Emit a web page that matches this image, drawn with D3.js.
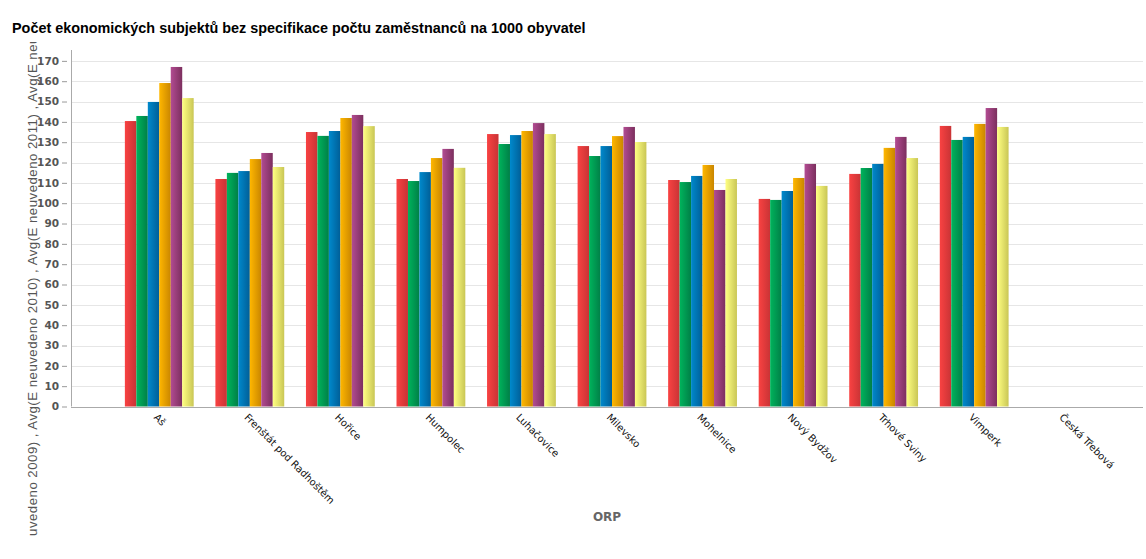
<!DOCTYPE html>
<meta charset="utf-8">
<style>
body { margin: 0; background: #fff; }
svg { display: block; }
</style>
<body>
<script src="https://d3js.org/d3.v7.min.js"></script>
<script>
var width = 1146,
    height = 559;

// data
var categories = ["Aš", "Frenštát pod Radhoštěm", "Hořice", "Humpolec", "Luhačovice",
  "Milevsko", "Mohelnice", "Nový Bydžov", "Trhové Sviny", "Vimperk", "Česká Třebová"];
var seriesNames = ["Avg(E neuvedeno 2009)", "Avg(E neuvedeno 2010)", "Avg(E neuvedeno 2011)",
  "Avg(E neuvedeno 2012)", "Avg(E neuvedeno 2013)", "Avg(E neuvedeno 2014)"];
var v2009 = [140.4, 111.9, 135.0, 111.9, 134.0, 128.1, 111.4, 102.1, 114.4, 138.0, null];
var v2010 = [142.9, 114.9, 133.1, 110.9, 129.1, 123.2, 110.4, 101.6, 117.3, 131.1, null];
var v2011 = [149.8, 115.8, 135.5, 115.3, 133.5, 128.1, 113.4, 106.0, 119.3, 132.6, null];
var v2012 = [159.1, 121.7, 141.9, 122.2, 135.5, 133.0, 118.8, 112.4, 127.2, 139.0, null];
var v2013 = [167.0, 124.7, 143.4, 126.7, 139.4, 137.5, 106.5, 119.3, 132.6, 146.8, null];
var v2014 = [151.7, 117.8, 137.9, 117.4, 134.0, 130.1, 111.9, 108.5, 122.2, 137.5, null];
var yTicks = d3.range(0, 171, 10);

var series = [v2009, v2010, v2011, v2012, v2013, v2014];
var gradStops = [["#f94242", "#c93335"], ["#00b45c", "#007f47"], ["#0089cc", "#005e97"],
  ["#ffb700", "#c98600"], ["#b24c92", "#7c2f5e"], ["#ffff82", "#c9c655"]];

var svg = d3.select("body").append("svg")
    .attr("width", width)
    .attr("height", height);

var defs = svg.append("defs");
gradStops.forEach(function(c, i) {
  var g = defs.append("linearGradient").attr("id", "g" + i)
      .attr("x1", "0%").attr("x2", "100%").attr("y1", "0%").attr("y2", "0%");
  g.append("stop").attr("offset", "0%").attr("stop-color", c[0]);
  g.append("stop").attr("offset", "100%").attr("stop-color", c[1]);
});
defs.append("clipPath").attr("id", "ytclip")
  .append("rect").attr("x", 0).attr("y", 42).attr("width", 60).attr("height", 494);

var plotLeft = 71, plotRight = 1143;

var x0 = d3.scaleBand().domain(categories).range([114, 1110])
    .paddingInner(0.24).paddingOuter(0.12);
var x1 = d3.scaleBand().domain(d3.range(series.length)).range([0, x0.bandwidth()]);
var y = d3.scaleLinear().domain([0, 175]).range([406.5, 50.7]);

// title
svg.append("text")
    .attr("x", 12).attr("y", 33)
    .style("font", "bold 14.4px 'Liberation Sans', Arial, sans-serif")
    .attr("fill", "#000")
    .text("Počet ekonomických subjektů bez specifikace počtu zaměstnanců na 1000 obyvatel");

// grid
svg.append("g").selectAll("line").data(yTicks.slice(1)).join("line")
    .attr("x1", plotLeft).attr("x2", plotRight)
    .attr("y1", function(d) { return Math.round(y(d)) + 0.5; })
    .attr("y2", function(d) { return Math.round(y(d)) + 0.5; })
    .attr("stroke", "#e6e6e6");

// bars
var groups = svg.append("g").selectAll("g").data(categories).join("g")
    .attr("transform", function(d) { return "translate(" + x0(d) + ",0)"; });
groups.selectAll("rect")
    .data(function(d, i) { return series.map(function(s, k) { return {k: k, v: s[i]}; }); })
    .join("rect")
    .filter(function(d) { return d.v != null; })
    .attr("x", function(d) { return x1(d.k); })
    .attr("width", x1.bandwidth())
    .attr("y", function(d) { return y(d.v); })
    .attr("height", function(d) { return y(0) - y(d.v); })
    .attr("fill", function(d) { return "url(#g" + d.k + ")"; });

// y axis
var yAxis = svg.append("g")
    .attr("transform", "translate(" + (plotLeft - 4) + ",0)")
    .call(d3.axisLeft(y).tickValues(yTicks).tickSize(5).tickPadding(3));
yAxis.select(".domain").remove();
yAxis.selectAll("line").attr("stroke", "#999");
yAxis.selectAll("text")
    .style("font", "bold 10.5px 'DejaVu Sans', Tahoma, sans-serif")
    .attr("fill", "#555");

// axis lines
svg.append("line").attr("x1", plotLeft + 0.5).attr("x2", plotLeft + 0.5)
    .attr("y1", 50).attr("y2", y(0)).attr("stroke", "#aaa");
svg.append("line").attr("x1", plotLeft).attr("x2", plotRight)
    .attr("y1", Math.round(y(0)) + 0.5).attr("y2", Math.round(y(0)) + 0.5)
    .attr("stroke", "#aaa");

// x labels
svg.append("g").selectAll("text").data(categories).join("text")
    .attr("transform", function(d) {
      return "translate(" + (x0(d) + x0.bandwidth() / 2 - 6) + ",418) rotate(45)";
    })
    .style("font", "10px 'DejaVu Sans', Tahoma, sans-serif")
    .attr("fill", "#111")
    .text(function(d) { return d; });

// axis titles
svg.append("text")
    .attr("x", (plotLeft + plotRight) / 2).attr("y", 521)
    .attr("text-anchor", "middle")
    .style("font", "bold 12px 'DejaVu Sans', Tahoma, sans-serif")
    .attr("fill", "#666")
    .text("ORP");

svg.append("g").attr("clip-path", "url(#ytclip)")
  .append("text")
    .attr("transform", "translate(37,594) rotate(-90)")
    .style("font", "13.3px 'Liberation Sans', Arial, sans-serif")
    .style("letter-spacing", "0.45px")
    .attr("fill", "#555")
    .text(seriesNames.join(" , "));
</script>
</body>
